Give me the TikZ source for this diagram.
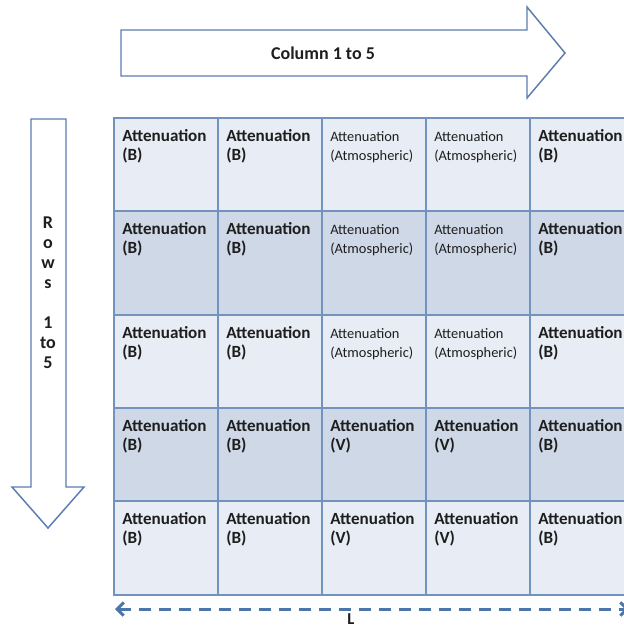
\documentclass[tikz,border=0pt]{standalone}
\usepackage{fontspec}
\setmainfont{Carlito}
\usepackage{tikz}
\usetikzlibrary{positioning,arrows.meta,calc}
\definecolor{ink}      {HTML}{1E1E1E}
\definecolor{frame}    {HTML}{5B7DB0}
\definecolor{gridline} {HTML}{7393BF}
\definecolor{dashblue} {HTML}{4A77AB}
\definecolor{lightrow} {HTML}{E8EDF5}
\definecolor{darkrow}  {HTML}{CFD8E7}
\newcommand\subb{(B)}
\newcommand\subv{(V)}
\newcommand\suba{(Atmospheric)}
\tikzset{
  every node/.style={text=ink},
  % --- shapes
  bigarrow/.style = {draw=frame, line width=1.1pt, fill=white, line join=miter},
  cellbox/.style  = {draw=gridline, line width=0.8pt, inner sep=0pt, outer sep=0pt,
                     anchor=north west, minimum width=78pt},
  % --- texts
  celltxt/.style  = {inner sep=0pt, anchor=base west},
  cellb/.style    = {celltxt, font=\fontsize{12.8}{15}\selectfont\bfseries},
  cellv/.style    = {cellb},
  cella/.style    = {celltxt, font=\fontsize{10.8}{14.2}\selectfont},
  head/.style     = {font=\fontsize{13.5}{15}\selectfont\bfseries, align=center},
  % --- edges
  span/.style     = {draw=dashblue, line width=2.25pt, dash pattern=on 9pt off 6pt,
                     {Straight Barb[length=5pt,width=10pt]}-{Straight Barb[length=5pt,width=10pt]}},
}
\begin{document}
\begin{tikzpicture}[x=0.75pt,y=0.75pt]
  \useasboundingbox (0,0) rectangle (624,-628);
  \clip (0,0) rectangle (624,-628);

  % column arrow
  \draw[bigarrow] (121,-30) -- (527,-30) -- (527,-7) -- (565,-53) -- (527,-98) -- (527,-76) -- (121,-76) -- cycle;
  \node[head] (coltxt) at (323,-53) {Column 1 to 5};

  % row arrow
  \draw[bigarrow] (31,-119) -- (66,-119) -- (66,-487) -- (84,-487) -- (48,-528) -- (12,-487) -- (31,-487) -- cycle;
  \node[head] (rowtxt) at (48,-293) {R\\o\\w\\s\\[15pt]1\\to\\5};

  % grid
  \foreach \r/\top/\ht/\shade/\mid in {1/118/93/lightrow/a, 2/211/104/darkrow/a, 3/315/93/lightrow/a,
                                      4/408/93/darkrow/v, 5/501/94/lightrow/v}{
    \foreach \c/\kind in {1/b, 2/b, 3/\mid, 4/\mid, 5/b}{
      \node[cellbox, fill=\shade, minimum height=\ht*0.75pt] (c\r\c) at (114+\c*104-104,-\top) {};
      \node[cell\kind] (t\r\c) at ($(c\r\c.north west)+(8,-23)$) {Attenuation};
      \node[cell\kind] (s\r\c) at ($(t\r\c.base west)+(0,-19.5)$) {\csname sub\kind\endcsname};
    }
  }

  % length
  \coordinate (lend) at (115,-609);
  \coordinate (rend) at (629,-609);
  \draw[span] (lend) -- (rend);
  \node[font=\fontsize{12.5}{15}\selectfont\bfseries, inner sep=1pt] (len) at (351,-619) {L};
\end{tikzpicture}
\end{document}
